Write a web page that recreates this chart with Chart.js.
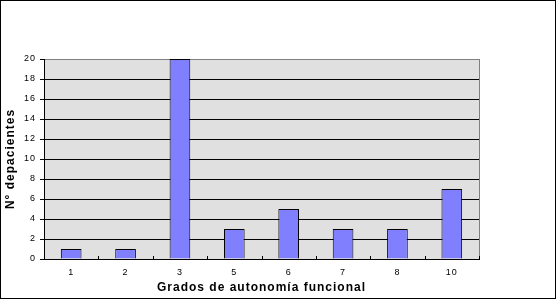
<!DOCTYPE html>
<html><head><meta charset="utf-8">
<script src="https://cdn.jsdelivr.net/npm/chart.js@4.4.0/dist/chart.umd.min.js"></script>
<style>html,body{margin:0;padding:0;background:#fff;}#wrap{width:556px;height:300px;position:relative;}</style>
</head><body><div id="wrap"><canvas id="c" width="556" height="300"></canvas></div>
<script>
const categories = ['1','2','3','5','6','7','8','10'];
const patients = [1,1,20,3,5,3,3,7];
const yTitle = 'N° depacientes';
const xTitle = 'Grados de autonomía funcional';

const FONT = '"Liberation Sans", Arial, sans-serif';

const decor = {
  id: 'decor',
  beforeDraw(chart) {
    const {ctx, chartArea: a} = chart;
    ctx.save();
    ctx.fillStyle = '#fff';
    ctx.fillRect(0, 0, chart.width, chart.height);
    ctx.fillStyle = '#e0e0e0';
    ctx.fillRect(a.left, a.top, a.right - a.left, a.bottom - a.top);
    ctx.restore();
    ctx.letterSpacing = '1px';
  },
  afterDatasetsDraw(chart) {
    const {ctx, chartArea: a, scales: {x}} = chart;
    ctx.save();
    ctx.strokeStyle = '#808080';
    ctx.lineWidth = 1;
    ctx.beginPath();
    ctx.moveTo(Math.round(a.right) + 0.5, a.top);
    ctx.lineTo(Math.round(a.right) + 0.5, a.bottom);
    ctx.stroke();
    ctx.strokeStyle = '#000';
    const n = categories.length;
    const w = (x.right - x.left) / n;
    ctx.beginPath();
    for (let i = 1; i <= n; i++) {
      const px = Math.round(x.left + i * w) + 0.5;
      ctx.moveTo(px, a.bottom - 3);
      ctx.lineTo(px, a.bottom);
    }
    ctx.stroke();
    ctx.restore();
  },
  afterDraw(chart) {
    const {ctx} = chart;
    ctx.letterSpacing = '0px';
    ctx.save();
    ctx.strokeStyle = '#000';
    ctx.lineWidth = 1;
    ctx.strokeRect(0.5, 0.5, chart.width - 1, chart.height - 2);
    ctx.restore();
  }
};

new Chart(document.getElementById('c'), {
  type: 'bar',
  data: {
    labels: categories,
    datasets: [{
      data: patients,
      backgroundColor: '#8080ff',
      borderColor: '#000',
      borderWidth: 1,
      barPercentage: 0.38,
      categoryPercentage: 1
    }]
  },
  options: {
    responsive: false,
    animation: false,
    devicePixelRatio: 1,
    layout: {padding: {left: 0, top: 59, right: 77, bottom: 0}},
    plugins: {legend: {display: false}, tooltip: {enabled: false}},
    scales: {
      x: {
        grid: {display: false, drawTicks: false},
        border: {display: true, color: '#000', width: 1},
        ticks: {color: '#000', font: {family: FONT, size: 9}, padding: 8, maxRotation: 0, autoSkip: false},
        title: {display: true, text: xTitle, color: '#000', font: {family: FONT, size: 12, weight: 'bold'}, padding: {top: 0, bottom: 5}},
        afterFit(s) { s.height = 41; }
      },
      y: {
        min: 0, max: 20,
        grid: {
          color: c => (c.tick && c.tick.value === 20) ? '#808080' : '#000',
          tickColor: '#000', tickLength: 4, lineWidth: 1
        },
        border: {display: true, color: '#000', width: 1},
        ticks: {stepSize: 2, color: '#000', font: {family: FONT, size: 9}, padding: 4},
        title: {display: true, text: yTitle, color: '#000', font: {family: FONT, size: 12, weight: 'bold'}, padding: {top: 3, bottom: 0}},
        afterFit(s) { s.width = 44; }
      }
    }
  },
  plugins: [decor]
});
</script></body></html>
